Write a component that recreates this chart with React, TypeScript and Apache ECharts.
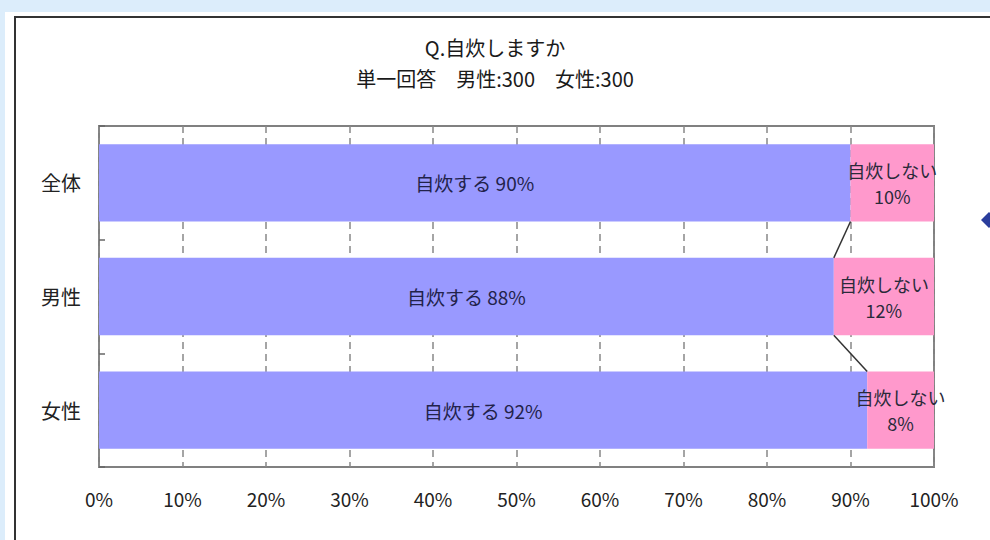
import React, { useEffect, useRef } from "react";
import * as echarts from "echarts";

const categories = ["全体", "男性", "女性"];
const cookValues = [90, 88, 92];
const noCookValues = [10, 12, 8];
const xTicks = [0, 10, 20, 30, 40, 50, 60, 70, 80, 90, 100];
const titleLine1 = "Q.自炊しますか";
const titleLine2 = "単一回答　男性:300　女性:300";
const cookName = "自炊する";
const noCookName = "自炊しない";

const FONT = "'Noto Sans CJK JP', 'Noto Sans', sans-serif";
const BAR_RATIO = 0.68;

export default function App() {
  const ref = useRef<HTMLDivElement>(null);
  useEffect(() => {
    if (!ref.current) return;
    const chart = echarts.init(ref.current, null, { renderer: "svg" });
    const seriesLineData = cookValues.slice(0, -1).map((v, i) => [i, v, cookValues[i + 1]]);
    chart.setOption({
      animation: false,
      backgroundColor: "#ffffff",
      textStyle: { fontFamily: FONT },
      title: {
        text: titleLine1 + "\n" + titleLine2,
        left: "center",
        top: 27,
        textStyle: { fontFamily: FONT, fontSize: 20, fontWeight: "normal", color: "#1a1a1a", lineHeight: 31 },
      },
      graphic: [
        { type: "rect", shape: { x: 0, y: 0, width: 990, height: 12 }, style: { fill: "#dcedfb" }, z: 0 },
        { type: "rect", shape: { x: 0, y: 0, width: 5, height: 540 }, style: { fill: "#dcedfb" }, z: 0 },
        { type: "line", shape: { x1: 14, y1: 17, x2: 990, y2: 17 }, style: { stroke: "#333", lineWidth: 2 }, z: 1 },
        { type: "line", shape: { x1: 15, y1: 17, x2: 15, y2: 540 }, style: { stroke: "#333", lineWidth: 2 }, z: 1 },
        { type: "polygon", shape: { points: [[981, 220], [989, 212], [997, 220], [989, 228]] }, style: { fill: "#2a3d9c" }, z: 1 },
      ],
      grid: {
        left: 99,
        right: 56,
        top: 126,
        bottom: 73,
        show: true,
        borderColor: "#808080",
        borderWidth: 2,
        backgroundColor: "transparent",
      },
      xAxis: {
        type: "value",
        min: xTicks[0],
        max: xTicks[xTicks.length - 1],
        interval: 10,
        axisLine: { show: false },
        axisTick: { show: false },
        axisLabel: { formatter: "{value}%", fontSize: 19, color: "#222", margin: 22, fontFamily: FONT },
        splitLine: { show: true, lineStyle: { color: "#888", type: [7, 5], width: 1.5 } },
      },
      yAxis: {
        type: "category",
        data: categories,
        inverse: true,
        axisLine: { show: false },
        axisTick: { show: true, inside: true, length: 6, lineStyle: { color: "#666", width: 1.5 } },
        axisLabel: { fontSize: 20, color: "#222", margin: 18, fontFamily: FONT },
        splitLine: { show: false },
      },
      series: [
        {
          name: cookName,
          type: "bar",
          stack: "total",
          barWidth: BAR_RATIO * 100 + "%",
          data: cookValues,
          itemStyle: { color: "#9999ff" },
          label: {
            show: true,
            position: "inside",
            formatter: (p: any) => `${cookName} ${p.value}%`,
            fontSize: 19,
            color: "#22224a",
            fontFamily: FONT,
          },
          z: 2,
        },
        {
          name: noCookName,
          type: "bar",
          stack: "total",
          barWidth: BAR_RATIO * 100 + "%",
          data: noCookValues,
          itemStyle: { color: "#ff99cc" },
          label: {
            show: true,
            position: "inside",
            formatter: (p: any) => `${noCookName}\n${p.value}%`,
            fontSize: 18,
            lineHeight: 26,
            color: "#2a2a3a",
            fontFamily: FONT,
          },
          z: 2,
        },
        {
          type: "custom",
          data: seriesLineData,
          encode: { x: [1, 2], y: 0 },
          z: 3,
          silent: true,
          renderItem: (params: any, api: any) => {
            const i = api.value(0);
            const a = api.value(1);
            const b = api.value(2);
            const p1 = api.coord([a, i]);
            const p2 = api.coord([b, i + 1]);
            const band = api.size([0, 1])[1];
            const h = (band * BAR_RATIO) / 2;
            return {
              type: "line",
              shape: { x1: p1[0], y1: p1[1] + h, x2: p2[0], y2: p2[1] - h },
              style: { stroke: "#333", lineWidth: 1.5 },
            };
          },
        },
      ],
    });
    return () => chart.dispose();
  }, []);
  return <div ref={ref} style={{ position: "absolute", left: 0, top: 0, width: 990, height: 540 }} />;
}
